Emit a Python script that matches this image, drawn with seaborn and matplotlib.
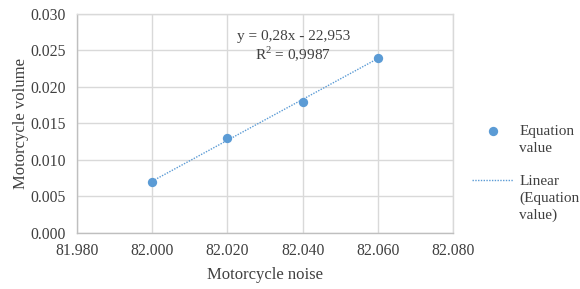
import numpy as np
import pandas as pd
import matplotlib
matplotlib.use("Agg")
import matplotlib.pyplot as plt
import seaborn as sns

# data
noise = [82.000, 82.020, 82.040, 82.060]
volume = [0.007, 0.013, 0.018, 0.024]
x_ticks = [81.980, 82.000, 82.020, 82.040, 82.060, 82.080]
y_ticks = [0.000, 0.005, 0.010, 0.015, 0.020, 0.025, 0.030]
equation_text = "y = 0,28x - 22,953\nR$^2$ = 0,9987"
legend_first = ["Equation", "Linear"]
legend_rest = [["value"], ["(Equation", "value)"]]

df = pd.DataFrame({"noise": noise, "volume": volume})

sns.set_theme(style="whitegrid")
plt.rcParams["font.family"] = ["Liberation Serif", "DejaVu Serif"]
plt.rcParams["mathtext.fontset"] = "custom"
plt.rcParams["mathtext.rm"] = "Liberation Serif"

blue = "#5B9BD5"
grid_col = "#D9D9D9"
txt_col = "#404040"

fig = plt.figure(figsize=(5.8, 2.89), dpi=100)
ax = fig.add_axes([0.1328, 0.1938, 0.6483, 0.7578])

sns.scatterplot(data=df, x="noise", y="volume", ax=ax, color=blue, s=45,
                edgecolor=blue, linewidth=0, zorder=3, label=legend_first[0],
                legend=False)

# linear trendline through the points
slope, intercept = np.polyfit(df["noise"], df["volume"], 1)
xs = np.array([df["noise"].min(), df["noise"].max()])
ax.plot(xs, slope * xs + intercept, color=blue, linestyle=(0, (1, 1)),
        linewidth=1, zorder=2, label=legend_first[1])

ax.set_xlim(x_ticks[0], x_ticks[-1])
ax.set_ylim(y_ticks[0], y_ticks[-1])
ax.set_xticks(x_ticks)
ax.set_yticks(y_ticks)
ax.set_xticklabels([f"{t:.3f}" for t in x_ticks], fontsize=11.3, color=txt_col)
ax.set_yticklabels([f"{t:.3f}" for t in y_ticks], fontsize=11.3, color=txt_col)
ax.tick_params(axis="x", length=0, pad=7)
ax.tick_params(axis="y", length=0, pad=8)
ax.grid(True, color=grid_col, linewidth=1)
for s in ax.spines.values():
    s.set_color(grid_col)
    s.set_linewidth(1)
ax.spines["left"].set_color("#BFBFBF")
ax.spines["bottom"].set_color("#BFBFBF")

ax.set_xlabel("Motorcycle noise", fontsize=12, color=txt_col, labelpad=6)
ax.set_ylabel("Motorcycle volume", fontsize=12, color=txt_col, labelpad=1)

ax.text(82.0375, 0.0255, equation_text, ha="center", va="center",
        fontsize=11, color=txt_col, linespacing=1.05)

handles, labels = ax.get_legend_handles_labels()
leg = fig.legend(handles, labels, loc="upper left", bbox_to_anchor=(0.814, 0.571),
                 frameon=False, fontsize=11, labelcolor=txt_col,
                 handlelength=2.7, handletextpad=0.4, labelspacing=2.4,
                 borderaxespad=0, borderpad=0)

# the remaining lines of each legend label, 17 px apart under the first line
fig.canvas.draw()
inv = fig.transFigure.inverted()
for t, rest in zip(leg.get_texts(), legend_rest):
    bb = t.get_window_extent()
    xc, yc = bb.x0, (bb.y0 + bb.y1) / 2
    for k, line in enumerate(rest, start=1):
        fx, fy = inv.transform((xc, yc - 17 * k))
        fig.text(fx, fy, line, ha="left", va="center", fontsize=11,
                 color=txt_col)

fig.savefig("out.png", dpi=100)
